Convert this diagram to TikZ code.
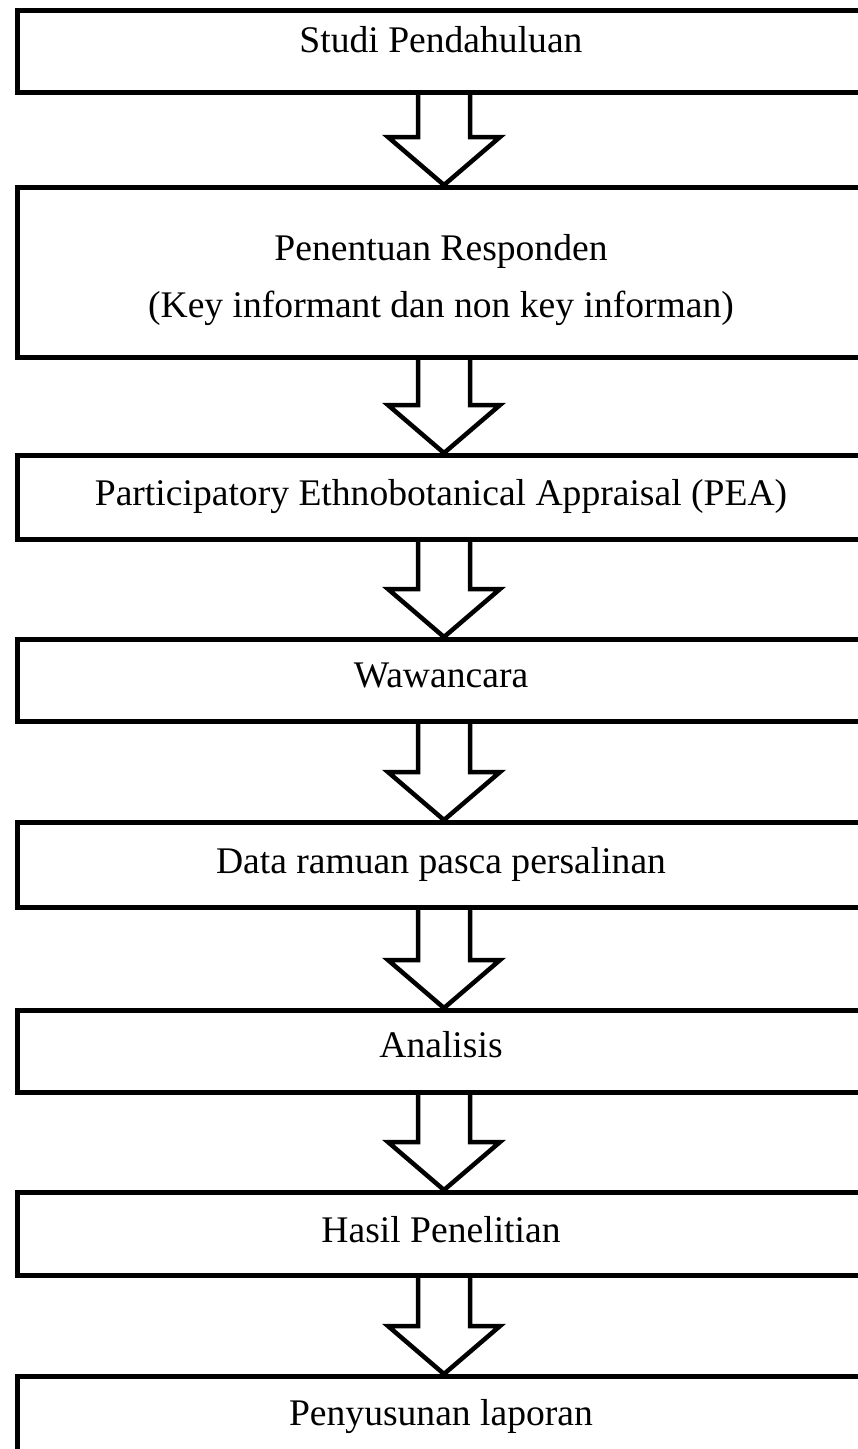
\documentclass[tikz,border=0pt]{standalone}
\usepackage{fontspec}
\setmainfont{Liberation Serif}
\usetikzlibrary{calc}
\tikzset{
  box/.style={draw=black, line width=5pt, rectangle, minimum width=853.5pt, anchor=north west, inner sep=0pt, line join=miter},
  lbl/.style={anchor=base, inner sep=0pt, font=\fontsize{37.6}{45}\selectfont},
  blockarrow/.style={draw=black, fill=white, line width=4.5pt, line join=miter},
}
\newcommand{\blockarr}[2]{%
  \draw[blockarrow] let \p1=(#1.south), \p2=(#2.north) in
    (418,\y1) -- (418pt,\y2+48pt) -- (388pt,\y2+48pt) -- (444pt,\y2) -- (500pt,\y2+48pt) -- (470pt,\y2+48pt) -- (470pt,\y1);}
\begin{document}
\begin{tikzpicture}[x=1pt,y=-1pt]
\useasboundingbox (0,0) rectangle (858,1449);
\clip (0,0) rectangle (858,1449);
\node[box, minimum height=82pt] (b1) at (14.5,8) {};
\node[box, minimum height=170pt] (b2) at (14.5,185) {};
\node[box, minimum height=84pt] (b3) at (14.5,453) {};
\node[box, minimum height=82pt] (b4) at (14.5,637) {};
\node[box, minimum height=85pt] (b5) at (14.5,820) {};
\node[box, minimum height=82pt] (b6) at (14.5,1008) {};
\node[box, minimum height=83pt] (b7) at (14.5,1190) {};
\node[box, minimum height=86pt] (b8) at (14.5,1374) {};
\node[lbl] (t1) at (441,52) {Studi Pendahuluan};
\node[lbl] (t2a) at (441,260) {Penentuan Responden};
\node[lbl] (t2b) at (441,317) {(Key informant dan non key informan)};
\node[lbl] (t3) at (441,505) {Participatory Ethnobotanical Appraisal (PEA)};
\node[lbl] (t4) at (441,687) {Wawancara};
\node[lbl] (t5) at (441,873) {Data ramuan pasca persalinan};
\node[lbl] (t6) at (441,1057) {Analisis};
\node[lbl] (t7) at (441,1242) {Hasil Penelitian};
\node[lbl] (t8) at (441,1425) {Penyusunan laporan};
\blockarr{b1}{b2}
\blockarr{b2}{b3}
\blockarr{b3}{b4}
\blockarr{b4}{b5}
\blockarr{b5}{b6}
\blockarr{b6}{b7}
\blockarr{b7}{b8}
\end{tikzpicture}
\end{document}
